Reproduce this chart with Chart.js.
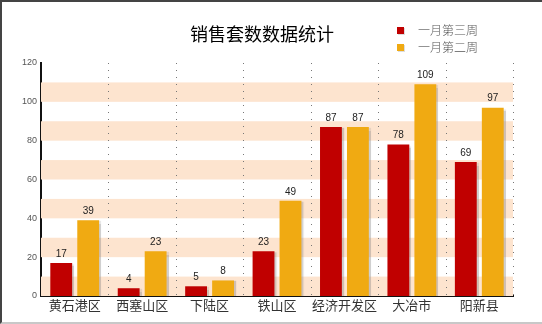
<!DOCTYPE html>
<html>
<head>
<meta charset="utf-8">
<script src="https://cdn.jsdelivr.net/npm/chart.js@4/dist/chart.umd.min.js"></script>
<style>
  html, body { margin: 0; padding: 0; background: #fff; }
  #wrap {
    position: relative; width: 540px; height: 320px; overflow: hidden;
    border-left: 2px solid #444; border-top: 2px solid #444; border-bottom: 2px solid #c8c8c8;
    font-family: "Noto Sans CJK SC", sans-serif;
  }
  #barChart { position: absolute; left: -2px; top: -2px; }
  #title {
    position: absolute; left: 188px; top: 18px; font-size: 18px; color: #000; font-weight: 400;
  }
  #legend { position: absolute; left: 395px; top: 19px; font-size: 12px; color: #555; font-weight: 300; }
  #legend div { height: 17px; line-height: 17px; }
  #legend span.box {
    display: inline-block; width: 7px; height: 7px; margin-right: 14px; vertical-align: 1px;
    box-shadow: 1px 1px 0 #ddd;
  }
</style>
</head>
<body>
<div id="wrap">
  <canvas id="barChart" width="542" height="324"></canvas>
  <div id="title">销售套数数据统计</div>
  <div id="legend"></div>
</div>
<script>
const categories = ['黄石港区', '西塞山区', '下陆区', '铁山区', '经济开发区', '大冶市', '阳新县'];
const seriesNames = ['一月第三周', '一月第二周'];
const week3 = [17, 4, 5, 23, 87, 78, 69];
const week2 = [39, 23, 8, 49, 87, 109, 97];
const colors = ['#c00000', '#f0aa12'];
const yTicks = [0, 20, 40, 60, 80, 100, 120];

document.addEventListener('DOMContentLoaded', () => {
  const ctx = document.getElementById('barChart');

  // peach stripes every other 10 units
  const bands = {
    id: 'bands',
    beforeDatasetsDraw(chart) {
      const { ctx, chartArea, scales } = chart;
      ctx.save();
      ctx.fillStyle = '#fde4cf';
      for (let v = 0; v < 120; v += 20) {
        const y1 = scales.y.getPixelForValue(v + 10);
        const y0 = scales.y.getPixelForValue(v);
        ctx.fillRect(chartArea.left, y1, chartArea.right - chartArea.left, y0 - y1);
      }
      ctx.restore();
    }
  };

  const barShadow = {
    id: 'barShadow',
    beforeDatasetDraw(chart) {
      const c = chart.ctx;
      c.save();
      c.shadowColor = 'rgba(120,120,120,0.35)';
      c.shadowOffsetX = 2;
      c.shadowOffsetY = 1;
      c.shadowBlur = 1;
    },
    afterDatasetDraw(chart) {
      chart.ctx.restore();
    }
  };

  const valueLabels = {
    id: 'valueLabels',
    afterDatasetsDraw(chart) {
      const c = chart.ctx;
      c.save();
      c.font = '10px Arial, "Liberation Sans", sans-serif';
      c.fillStyle = '#222';
      c.textAlign = 'center';
      c.textBaseline = 'bottom';
      chart.data.datasets.forEach((ds, i) => {
        chart.getDatasetMeta(i).data.forEach((bar, j) => {
          c.fillText(ds.data[j], bar.x, bar.y - 4);
        });
      });
      c.restore();
    }
  };

  // dotted category separators
  const dottedGrid = {
    id: 'dottedGrid',
    beforeDatasetsDraw(chart) {
      const { ctx, chartArea, scales } = chart;
      const step = scales.x.getPixelForValue(1) - scales.x.getPixelForValue(0);
      ctx.save();
      ctx.strokeStyle = '#777';
      ctx.setLineDash([1, 6]);
      ctx.lineWidth = 1;
      categories.forEach((c, i) => {
        const x = Math.round(scales.x.getPixelForValue(i) + step / 2) + 0.5;
        ctx.beginPath();
        ctx.moveTo(x, chartArea.top);
        ctx.lineTo(x, chartArea.bottom);
        ctx.stroke();
      });
      ctx.restore();
    }
  };

  new Chart(ctx, {
    type: 'bar',
    data: {
      labels: categories,
      datasets: [
        { label: seriesNames[0], data: week3, backgroundColor: colors[0] },
        { label: seriesNames[1], data: week2, backgroundColor: colors[1] }
      ]
    },
    options: {
      responsive: false,
      animation: false,
      devicePixelRatio: 1,
      categoryPercentage: 0.8,
      barPercentage: 0.81,
      layout: { padding: { top: 63, right: 29, left: 0, bottom: 0 } },
      plugins: { legend: { display: false }, title: { display: false }, tooltip: { enabled: false } },
      scales: {
        x: {
          offset: true,
          grid: { display: false, drawTicks: false, tickLength: 0 },
          border: { display: true, color: '#111', width: 2 },
          ticks: {
            color: '#333', font: { size: 13, family: '"Noto Sans CJK SC", sans-serif' },
            padding: 1, maxRotation: 0, minRotation: 0, autoSkip: false
          },
          afterFit(scale) { scale.height = 28; }
        },
        y: {
          min: 0, max: 120,
          afterBuildTicks(scale) { scale.ticks = yTicks.map(v => ({ value: v })); },
          grid: { display: false, drawTicks: false, tickLength: 0 },
          border: { display: true, color: '#111', width: 2 },
          ticks: { color: '#555', font: { size: 9, family: 'Arial, sans-serif' }, padding: 4 },
          afterFit(scale) { scale.width = 41; }
        }
      }
    },
    plugins: [bands, dottedGrid, barShadow, valueLabels]
  });

  const legend = document.getElementById('legend');
  seriesNames.forEach((name, i) => {
    const row = document.createElement('div');
    row.innerHTML = `<span class="box" style="background:${colors[i]}"></span>${name}`;
    legend.appendChild(row);
  });
});
</script>
</body>
</html>
